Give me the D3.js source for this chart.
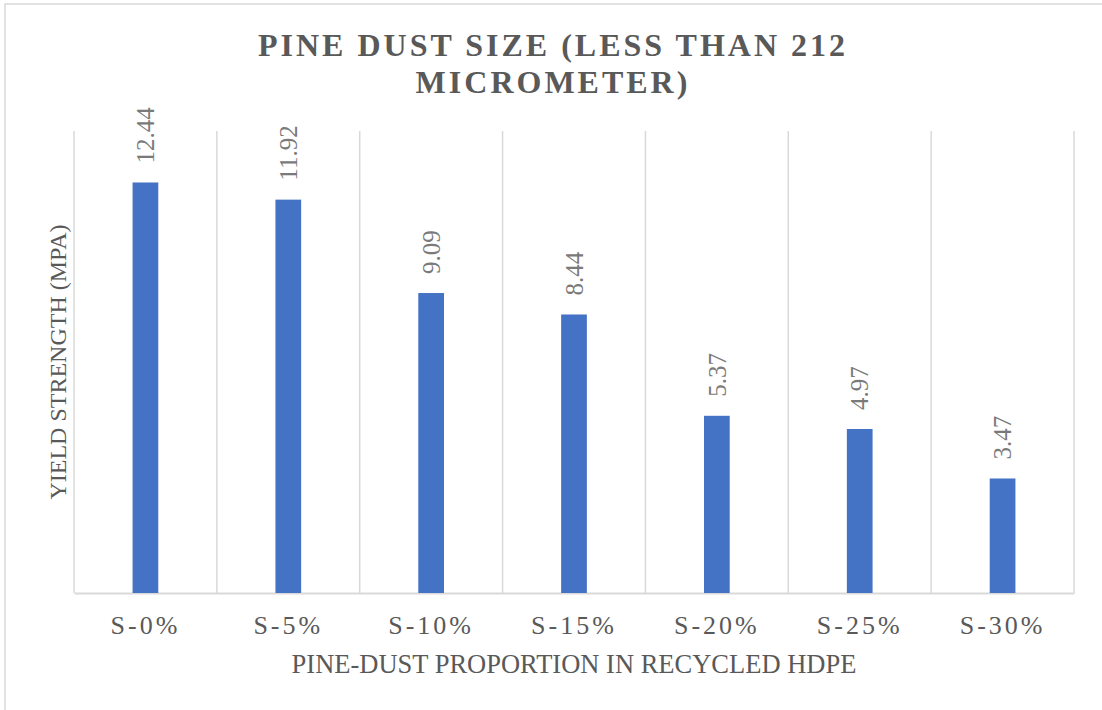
<!DOCTYPE html>
<html><head><meta charset="utf-8">
<script src="https://cdn.jsdelivr.net/npm/d3@7/dist/d3.min.js"></script>
<style>
body{margin:0;background:#fff;}
svg text{font-family:"Liberation Serif","Times New Roman",serif;fill:#595959;}
</style></head>
<body><svg id="c" width="1102" height="710"></svg>
<script>
const categories = ["S-0%","S-5%","S-10%","S-15%","S-20%","S-25%","S-30%"];
const values = [12.44,11.92,9.09,8.44,5.37,4.97,3.47];
const titleLines = ["PINE DUST SIZE (LESS THAN 212","MICROMETER)"];
const xTitle = "PINE-DUST PROPORTION IN RECYCLED HDPE";
const yTitle = "YIELD STRENGTH (MPA)";
const yDomain = [0, 14];

const svg = d3.select("#c");
const m = {left:74, right:1074, top:131, bottom:593};

// outer chart border
svg.append("rect").attr("x",5).attr("y",4).attr("width",1110).attr("height",720)
  .attr("fill","none").attr("stroke","#d9d9d9").attr("stroke-width",1.5);

const x = d3.scaleBand().domain(categories).range([m.left,m.right]).padding(0);
const y = d3.scaleLinear().domain(yDomain).range([m.bottom,m.top]);

// vertical gridlines at category boundaries
const bounds = categories.map(c=>x(c)).concat([x(categories[categories.length-1])+x.bandwidth()]);
svg.append("g").selectAll("line").data(bounds).join("line")
  .attr("x1",d=>d).attr("x2",d=>d).attr("y1",y(yDomain[1])).attr("y2",y(0))
  .attr("stroke","#d9d9d9").attr("stroke-width",1.5);

// x axis
const xAxis = svg.append("g").attr("transform",`translate(0,${y(0)})`)
  .call(d3.axisBottom(x).tickSize(0).tickPadding(23));
xAxis.select(".domain").attr("stroke","#d9d9d9").attr("stroke-width",2);
xAxis.selectAll("text").style("font-size","26px").style("letter-spacing","3px")
  .style("font-family","'Liberation Serif',serif").attr("fill","#595959");

// bars
const bw = x.bandwidth()*0.18;
svg.append("g").selectAll("rect").data(values).join("rect")
  .attr("x",(d,i)=>x(categories[i])+x.bandwidth()/2-bw/2)
  .attr("y",d=>y(d)).attr("width",bw).attr("height",d=>y(0)-y(d))
  .attr("fill","#4472C4");

// data labels
svg.append("g").selectAll("text").data(values).join("text")
  .attr("transform",(d,i)=>`translate(${x(categories[i])+x.bandwidth()/2},${y(d)-19}) rotate(-90)`)
  .attr("dy","0.35em").attr("text-anchor","start")
  .style("font-size","25px").style("fill","#7a7a7a").text(d=>d.toFixed(2));

// titles
const t = svg.append("text").attr("text-anchor","middle")
  .style("font-size","32px").style("font-weight","bold").style("letter-spacing","3px");
titleLines.forEach((l,i)=>t.append("tspan").attr("x",553).attr("y",56+i*37).text(l));

svg.append("text").attr("x",(m.left+m.right)/2).attr("y",673).attr("text-anchor","middle")
  .style("font-size","26.5px").text(xTitle);
svg.append("text").attr("transform",`translate(58,${(m.top+m.bottom)/2}) rotate(-90)`)
  .attr("dy","0.35em").attr("text-anchor","middle").style("font-size","24px").text(yTitle);
</script></body></html>
